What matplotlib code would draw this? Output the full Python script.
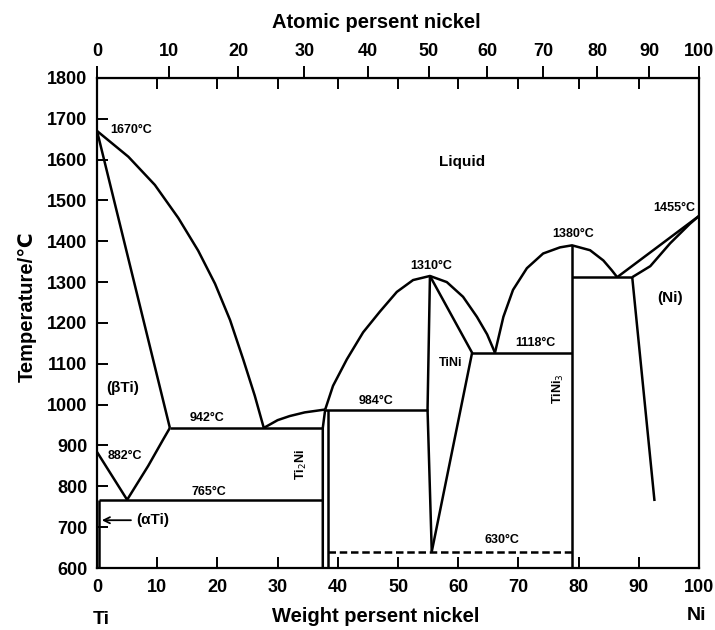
import numpy as np
import matplotlib
matplotlib.use('Agg')
import matplotlib.pyplot as plt

plt.rcParams['font.family'] = ['Liberation Sans', 'DejaVu Sans']

# phase boundaries: (weight % Ni, temperature in C)
liq_ti_w = [0, 5.2, 9.6, 13.5, 16.8, 19.6, 22.1, 24.3, 26.2, 27.7]
liq_ti_t = [1670, 1607, 1538, 1457, 1377, 1296, 1207, 1110, 1022, 943]
sol_beta_w = [0, 12.1]
sol_beta_t = [1670, 943]
beta_solvus_w = [5, 8.5, 11, 12.1]
beta_solvus_t = [767, 850, 915, 943]
alpha_beta_w = [0, 5]
alpha_beta_t = [884, 767]
alpha_solvus_w = [0.4, 0.4]
alpha_solvus_t = [767, 600]
eut942_w = [12.1, 37.5]
eut942_t = 943
eut765_w = [0.4, 37.5]
eut765_t = 767
ti2ni_left_w = [37.5, 37.5, 37.9]
ti2ni_left_t = [600, 943, 988]
ti2ni_right_w = [38.4, 38.4]
ti2ni_right_t = [600, 988]
liq_mid1_w = [27.7, 30, 32, 34.5, 37.9]
liq_mid1_t = [943, 962, 972, 981, 988]
liq_tini_w = [37.9, 39.2, 41.5, 44.2, 47.0, 49.8, 52.5, 55.3,
              58.1, 60.8, 63.1, 64.8, 66.1]
liq_tini_t = [988, 1046, 1111, 1177, 1228, 1276, 1305, 1315,
              1300, 1264, 1215, 1172, 1127]
peri984_w = [37.9, 54.9]
peri984_t = 988
tini_left_w = [55.3, 54.9, 55.6]
tini_left_t = [1315, 988, 640]
tini_right_w = [55.6, 62.3, 55.3]
tini_right_t = [640, 1127, 1315]
eut1118_w = [62.3, 78.9]
eut1118_t = 1127
liq_tini3_w = [66.1, 67.5, 69.1, 71.4, 74.1, 76.9, 78.9, 81.9, 84.1, 85.5, 86.4]
liq_tini3_t = [1127, 1215, 1281, 1334, 1370, 1385, 1390, 1378, 1353, 1329, 1312]
tini3_w = [78.9, 78.9]
tini3_t = [1390, 600]
eut1304_w = [78.9, 88.9]
eut1304_t = 1312
liq_ni_w = [86.4, 100]
liq_ni_t = [1312, 1462]
sol_ni_w = [88.9, 91.9, 95.2, 98.5, 100]
sol_ni_t = [1312, 1339, 1395, 1443, 1462]
ni_solvus_w = [88.9, 92.6]
ni_solvus_t = [1312, 764]
dash630_w = [38.4, 78.9]
dash630_t = 640

wt_ticks = list(range(0, 101, 10))
at_ticks = list(range(0, 101, 10))
t_ticks = list(range(600, 1801, 100))

# annotations: text, x (wt %), T, alignment, rotation, size
labels = [
    ('1670°C', 2.2, 1673, 'left', 0, 9),
    ('Liquid', 60.6, 1593, 'center', 0, 11),
    ('1455°C', 99.4, 1482, 'right', 0, 9),
    ('1380°C', 79.0, 1418, 'center', 0, 9),
    ('1310°C', 55.5, 1340, 'center', 0, 9),
    ('(Ni)', 95.2, 1262, 'center', 0, 11),
    ('1118°C', 72.8, 1151, 'center', 0, 9),
    ('TiNi', 58.7, 1102, 'center', 0, 9),
    ('TiNi$_3$', 76.6, 1039, 'center', 90, 9),
    ('984°C', 46.3, 1008, 'center', 0, 9),
    ('(βTi)', 4.2, 1041, 'center', 0, 11),
    ('942°C', 18.3, 968, 'center', 0, 9),
    ('882°C', 4.6, 874, 'center', 0, 9),
    ('Ti$_2$Ni', 33.9, 852, 'center', 90, 9),
    ('765°C', 18.5, 787, 'center', 0, 9),
    ('630°C', 67.3, 669, 'center', 0, 9),
]


def w2a(w):
    w = np.clip(np.asarray(w, dtype=float), 0, 100)
    ni = w / 58.69
    ti = (100 - w) / 47.87
    return 100 * ni / np.maximum(ni + ti, 1e-9)


def a2w(a):
    a = np.clip(np.asarray(a, dtype=float), 0, 100)
    ni = a * 58.69
    ti = (100 - a) * 47.87
    return 100 * ni / np.maximum(ni + ti, 1e-9)


fig = plt.figure(figsize=(7.15, 6.3), dpi=100)
ax = fig.add_axes([0.1357, 0.0984, 0.842, 0.778])

kw = dict(color='black', lw=1.8, solid_capstyle='butt', solid_joinstyle='round')
ax.plot(liq_ti_w, liq_ti_t, **kw)
ax.plot(sol_beta_w, sol_beta_t, **kw)
ax.plot(beta_solvus_w, beta_solvus_t, **kw)
ax.plot(alpha_beta_w, alpha_beta_t, **kw)
ax.plot(alpha_solvus_w, alpha_solvus_t, **kw)
ax.plot(eut942_w, [eut942_t] * 2, **kw)
ax.plot(eut765_w, [eut765_t] * 2, **kw)
ax.plot(ti2ni_left_w, ti2ni_left_t, **kw)
ax.plot(ti2ni_right_w, ti2ni_right_t, **kw)
ax.plot(liq_mid1_w, liq_mid1_t, **kw)
ax.plot(liq_tini_w, liq_tini_t, **kw)
ax.plot(peri984_w, [peri984_t] * 2, **kw)
ax.plot(tini_left_w, tini_left_t, **kw)
ax.plot(tini_right_w, tini_right_t, **kw)
ax.plot(eut1118_w, [eut1118_t] * 2, **kw)
ax.plot(liq_tini3_w, liq_tini3_t, **kw)
ax.plot(tini3_w, tini3_t, **kw)
ax.plot(eut1304_w, [eut1304_t] * 2, **kw)
ax.plot(liq_ni_w, liq_ni_t, **kw)
ax.plot(sol_ni_w, sol_ni_t, **kw)
ax.plot(ni_solvus_w, ni_solvus_t, **kw)
ax.plot(dash630_w, [dash630_t] * 2, color='black', lw=1.8,
        linestyle=(0, (3, 1.5)))

for txt, x, y, ha, rot, size in labels:
    ax.text(x, y, txt, ha=ha, va='center', rotation=rot, fontsize=size,
            fontweight='bold')

ax.annotate('(αTi)', xy=(0.8, 717), xytext=(9.3, 717), ha='center',
            va='center', fontsize=11, fontweight='bold',
            arrowprops=dict(arrowstyle='->', color='black', lw=1.3,
                            shrinkA=2, shrinkB=0))

ax.set_xlim(0, 100)
ax.set_ylim(600, 1800)
ax.set_xticks(wt_ticks)
ax.set_yticks(t_ticks)
for s in ax.spines.values():
    s.set_linewidth(1.6)
ax.tick_params(axis='both', direction='in', length=8, width=1.4,
               labelsize=13, top=True)
ax.tick_params(axis='x', pad=8)
ax.tick_params(axis='y', pad=7)
for lab in ax.get_xticklabels() + ax.get_yticklabels():
    lab.set_fontweight('bold')

sec = ax.secondary_xaxis('top', functions=(w2a, a2w))
sec.set_xticks(at_ticks)
sec.tick_params(direction='out', length=9, width=1.4, labelsize=13, pad=4)
for lab in sec.get_xticklabels():
    lab.set_fontweight('bold')

fig.text(376 / 715, 1 - 22 / 630, 'Atomic persent nickel', ha='center',
         va='center', fontsize=14.5, fontweight='bold')
fig.text(376 / 715, 1 - 617 / 630, 'Weight persent nickel', ha='center',
         va='center', fontsize=14.5, fontweight='bold')
fig.text(27 / 715, 1 - 307 / 630, 'Temperature/℃', rotation=90, ha='center',
         va='center', fontsize=14.5, fontweight='bold')
fig.text(101 / 715, 1 - 619 / 630, 'Ti', ha='center', va='center',
         fontsize=14, fontweight='bold')
fig.text(697 / 715, 1 - 616 / 630, 'Ni', ha='center', va='center',
         fontsize=14, fontweight='bold')

fig.savefig('out.png', dpi=100)
